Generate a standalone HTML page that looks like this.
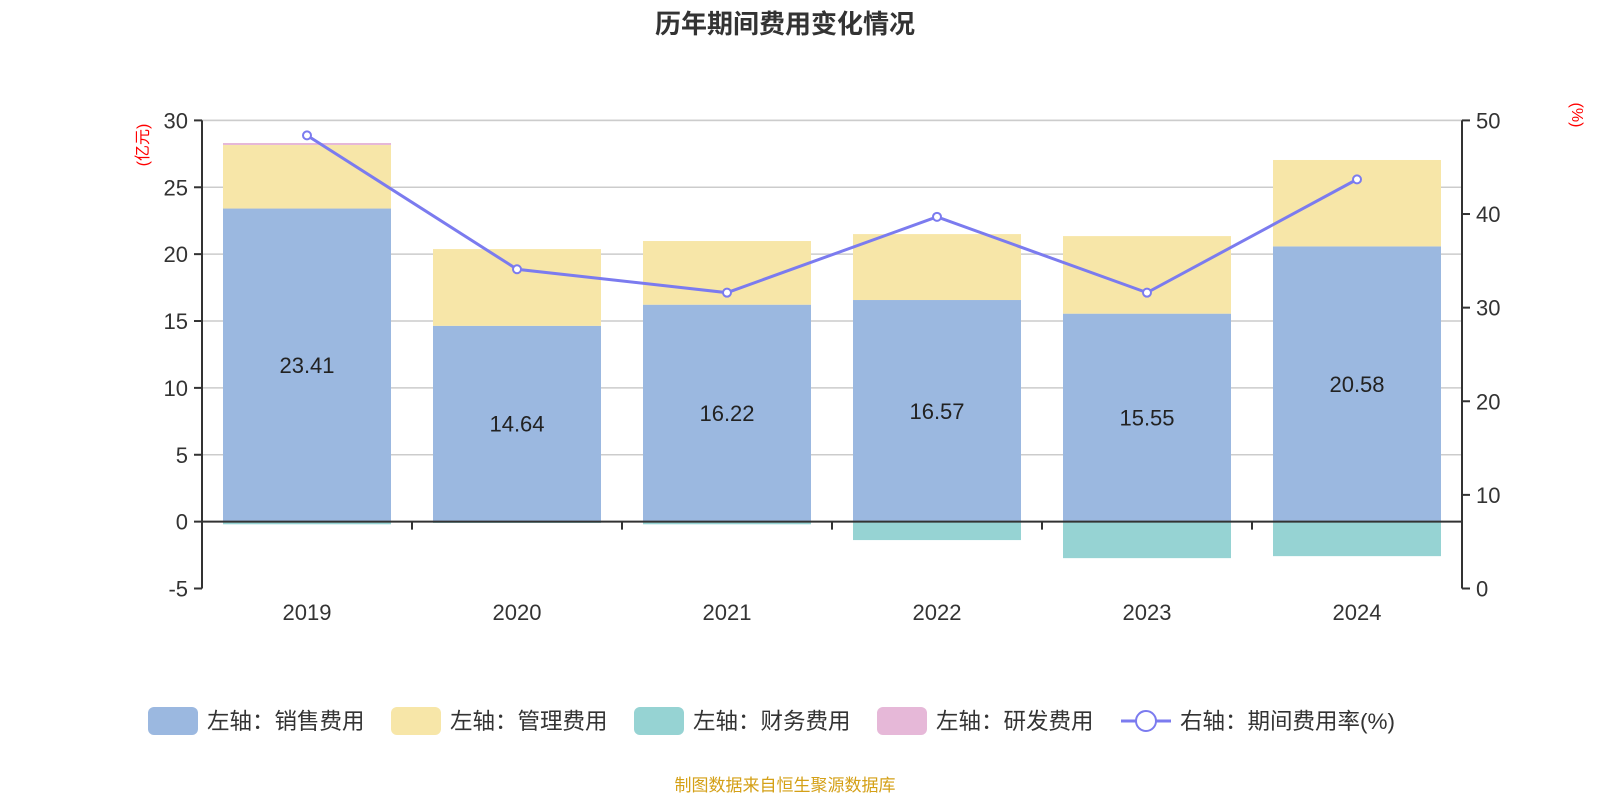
<!DOCTYPE html>
<html><head><meta charset="utf-8"><style>
body{margin:0;background:#fff;}
svg text{font-family:"Liberation Sans","Noto Sans CJK SC",sans-serif;}
</style></head><body>
<svg id="c" width="1600" height="800" xmlns="http://www.w3.org/2000/svg">
<text x="785" y="33" text-anchor="middle" font-size="26" font-weight="bold" fill="#333">历年期间费用变化情况</text>
<text x="148" y="145" font-size="16" fill="#f00" transform="rotate(-90 148 145)" text-anchor="middle">(亿元)</text>
<text x="1572" y="115" font-size="16" fill="#f00" transform="rotate(90 1572 115)" text-anchor="middle">(%)</text>
<g id="grid"></g><g id="bars"></g><g id="axes"></g><g id="line"></g>
<g id="legend" font-size="22.5" fill="#333"></g>
<text x="785" y="791" text-anchor="middle" font-size="17" fill="#d4a017">制图数据来自恒生聚源数据库</text>
</svg>
<script>
const categories=["2019","2020","2021","2022","2023","2024"];
const sales=[23.41,14.64,16.22,16.57,15.55,20.58];
const mgmt=[4.75,5.74,4.76,4.93,5.8,6.46];
const finance=[-0.2,-0.1,-0.2,-1.38,-2.73,-2.58];
const rnd=[0.15,0,0,0,0,0];
const rate=[48.4,34.1,31.6,39.7,31.6,43.7];
const leftTicks=[-5,0,5,10,15,20,25,30];
const rightTicks=[0,10,20,30,40,50];
const NS="http://www.w3.org/2000/svg";
const X0=202,X1=1462,YT=120.4,YB=588.5;
const yL=v=>YT+(30-v)*(YB-YT)/35;
const yR=v=>YB-v*(YB-YT)/50;
const bw=(X1-X0)/categories.length;
const xc=i=>X0+bw*(i+0.5);
function mk(tag,attrs,parent){const e=document.createElementNS(NS,tag);for(const k in attrs)e.setAttribute(k,attrs[k]);document.getElementById(parent).appendChild(e);return e;}
leftTicks.forEach(t=>{
 if(t!==0&&t!==-5){const g=mk('line',{x1:X0,x2:X1,y1:yL(t),y2:yL(t),stroke:'#ccc','stroke-width':1.5},'grid');}
 mk('line',{x1:X0-8,x2:X0,y1:yL(t),y2:yL(t),stroke:'#333','stroke-width':2},'axes');
 const tx=mk('text',{x:X0-14,y:yL(t)+8,'text-anchor':'end','font-size':22,fill:'#333'},'axes');tx.textContent=t;
 
 
});
mk('line',{x1:X0,x2:X1,y1:yL(30),y2:yL(30),stroke:'#ccc','stroke-width':1.5},'grid');
rightTicks.forEach(t=>{
 mk('line',{x1:X1,x2:X1+8,y1:yR(t),y2:yR(t),stroke:'#333','stroke-width':2},'axes');
 const tx=mk('text',{x:X1+14,y:yR(t)+8,'font-size':22,fill:'#333'},'axes');tx.textContent=t;
 
 
});
mk('line',{x1:X0,x2:X0,y1:YT,y2:YB,stroke:'#333','stroke-width':2},'axes');
mk('line',{x1:X1,x2:X1,y1:YT,y2:YB,stroke:'#333','stroke-width':2},'axes');
const bwid=168;
categories.forEach((c,i)=>{
 const x=xc(i)-bwid/2;
 const s=mk('rect',{x:x,y:yL(sales[i]),width:bwid,height:yL(0)-yL(sales[i]),fill:'#9bb8e0'},'bars');
 
 const m=mk('rect',{x:x,y:yL(sales[i]+mgmt[i]),width:bwid,height:yL(sales[i])-yL(sales[i]+mgmt[i]),fill:'#f7e6a8'},'bars');
 
 if(rnd[i]>0){const r=mk('rect',{x:x,y:yL(sales[i]+mgmt[i]+rnd[i]),width:bwid,height:yL(sales[i]+mgmt[i])-yL(sales[i]+mgmt[i]+rnd[i]),fill:'#e6b8d8'},'bars');
 }
 const f=mk('rect',{x:x,y:yL(0),width:bwid,height:yL(finance[i])-yL(0),fill:'#96d3d3'},'bars');
 
 const lb=mk('text',{x:xc(i),y:yL(sales[i]/2)+8,'text-anchor':'middle','font-size':22,fill:'#222'},'bars');lb.textContent=sales[i].toFixed(2);
 
 const xl=mk('text',{x:xc(i),y:620,'text-anchor':'middle','font-size':22,fill:'#333'},'axes');xl.textContent=c;
 
 if(i>0)mk('line',{x1:X0+bw*i,x2:X0+bw*i,y1:yL(0),y2:yL(0)+8,stroke:'#333','stroke-width':2},'axes');
});
mk('line',{x1:X0,x2:X1,y1:yL(0),y2:yL(0),stroke:'#333','stroke-width':2},'axes');
const pl=mk('polyline',{points:rate.map((v,i)=>xc(i)+','+yR(v)).join(' '),fill:'none',stroke:'#7b7bef','stroke-width':3},'line');

rate.forEach((v,i)=>{const p=mk('circle',{cx:xc(i),cy:yR(v),r:4,fill:'#fff',stroke:'#7b7bef','stroke-width':2},'line');
 });
const leg=[["左轴：销售费用","#9bb8e0",148],["左轴：管理费用","#f7e6a8",391],["左轴：财务费用","#96d3d3",634],["左轴：研发费用","#e6b8d8",877]];
leg.forEach(l=>{const r=mk('rect',{x:l[2],y:707,width:50,height:28,rx:6,fill:l[1]},'legend');
 
 const t=mk('text',{x:l[2]+59,y:729},'legend');t.textContent=l[0];
 });
mk('line',{x1:1121,x2:1171,y1:721,y2:721,stroke:'#7b7bef','stroke-width':3},'legend');
mk('circle',{cx:1146,cy:721,r:10,fill:'#fff',stroke:'#7b7bef','stroke-width':2},'legend');
const lt=mk('text',{x:1180,y:729},'legend');lt.textContent="右轴：期间费用率(%)";

</script>
</body></html>
